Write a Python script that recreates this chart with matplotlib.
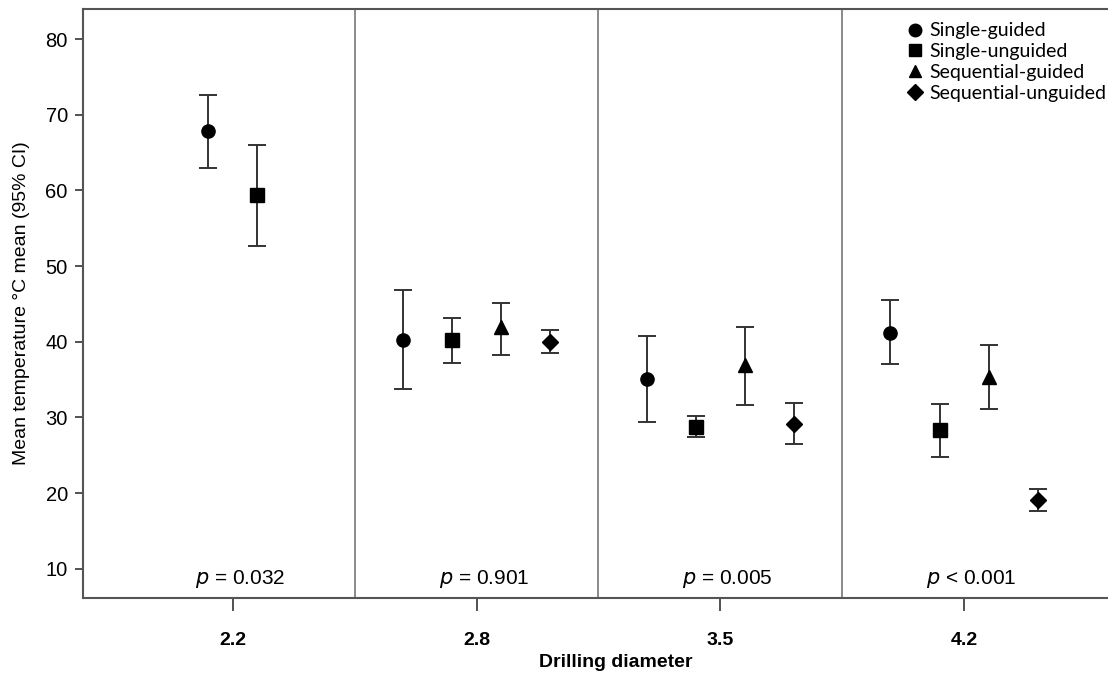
import numpy as np
import matplotlib.pyplot as plt

diameters = ["2.2", "2.8", "3.5", "4.2"]
p_labels = ["= 0.032", "= 0.901", "= 0.005", "< 0.001"]

series = ["Single-guided", "Single-unguided", "Sequential-guided", "Sequential-unguided"]
markers = ["o", "s", "^", "D"]

# mean, lower CI, upper CI per diameter (None = not tested)
means = {
    "Single-guided":       [67.8, 40.3, 35.1, 41.2],
    "Single-unguided":     [59.4, 40.2, 28.7, 28.3],
    "Sequential-guided":   [None, 41.9, 36.9, 35.4],
    "Sequential-unguided": [None, 40.0, 29.2, 19.1],
}
lower = {
    "Single-guided":       [63.0, 33.7, 29.4, 37.1],
    "Single-unguided":     [52.6, 37.2, 27.4, 24.8],
    "Sequential-guided":   [None, 38.3, 31.6, 31.1],
    "Sequential-unguided": [None, 38.5, 26.5, 17.6],
}
upper = {
    "Single-guided":       [72.6, 46.8, 40.8, 45.5],
    "Single-unguided":     [66.0, 43.2, 30.2, 31.8],
    "Sequential-guided":   [None, 45.1, 42.0, 39.6],
    "Sequential-unguided": [None, 41.5, 31.9, 20.6],
}

fig = plt.figure(figsize=(11.08, 6.73), dpi=100)
ax = fig.add_axes([0.075, 0.112, 0.925, 0.875])

step = 0.202
for gi in range(len(diameters)):
    present = [s for s in series if means[s][gi] is not None]
    n = len(present)
    for k, s in enumerate(present):
        x = gi + (k - (n - 1) / 2) * step
        m = means[s][gi]
        lo, hi = lower[s][gi], upper[s][gi]
        mk = markers[series.index(s)]
        ax.errorbar(x, m, yerr=[[m - lo], [hi - m]], fmt=mk,
                    color="black", ecolor="#333333", elinewidth=1.4, capsize=6.5,
                    capthick=1.4, markersize=9.5 if mk != "D" else 8.5, zorder=3)

# legend handles
for s, mk in zip(series, markers):
    ax.plot([], [], mk, color="black", markersize=9 if mk != "D" else 8, label=s)
ax.legend(loc="upper right", frameon=False, handlelength=0.6, handletextpad=0.45,
          labelspacing=0.2, borderaxespad=0.3, bbox_to_anchor=(1.012, 1.0),
          prop={"family": "Lato", "size": 14})

for b in [0.5, 1.5, 2.5]:
    ax.axvline(b, color="#777777", lw=1.2, zorder=1)

for gi, p in enumerate(p_labels):
    ax.text(gi + 0.03, 8.6, "$\\it{p}$ " + p, ha="center", va="center", fontsize=15,
            family="Liberation Sans")

ax.set_xlim(-0.614, 3.59)
ax.set_ylim(6.2, 84.0)
ax.set_xticks(range(len(diameters)))
ax.set_xticklabels(diameters, fontweight="bold", fontsize=14, family="Liberation Sans")
ax.set_yticks(np.arange(10, 81, 10))
ax.tick_params(axis="y", labelsize=14.5, length=6, width=1.2, color="#333333", pad=5)
ax.tick_params(axis="x", length=9, width=1.2, pad=16, color="#333333")
for lab in ax.get_yticklabels():
    lab.set_family("Liberation Sans")

ax.set_ylabel("Mean temperature \u00b0C mean (95% CI)", fontsize=14, family="Liberation Sans",
              labelpad=11)
ax.set_xlabel("Drilling diameter", fontsize=14, fontweight="bold", family="Liberation Sans",
              va="center")
ax.xaxis.set_label_coords(0.52, -0.110)

ax.spines["right"].set_visible(False)
for sp in ["left", "top", "bottom"]:
    ax.spines[sp].set_color("#555555")
    ax.spines[sp].set_linewidth(1.5)

fig.savefig("out.png", dpi=100)
